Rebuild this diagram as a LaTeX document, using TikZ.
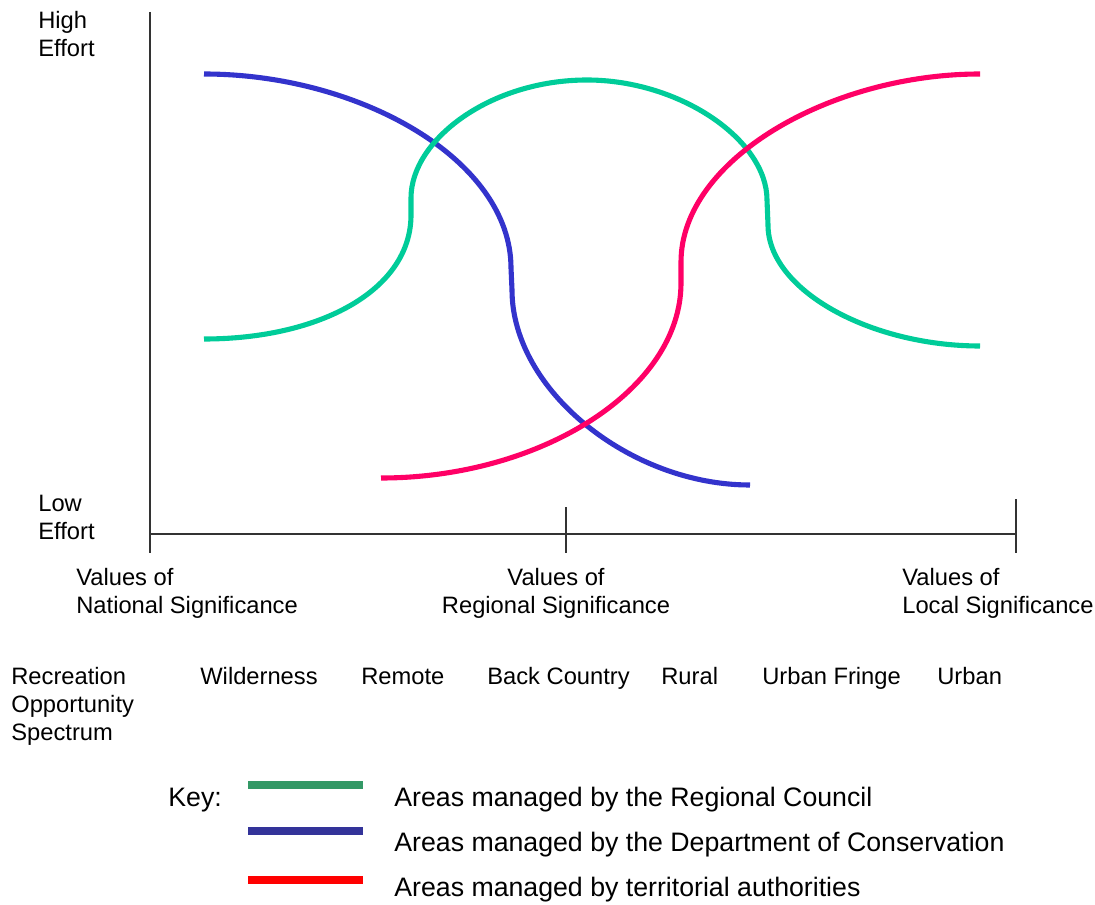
\documentclass[tikz,border=0pt]{standalone}
\usepackage{fontspec}
\setmainfont{Liberation Sans}
\usetikzlibrary{positioning}
\definecolor{recCouncil}{HTML}{00CC99}
\definecolor{recDoc}{HTML}{3333CC}
\definecolor{recTla}{HTML}{FF0066}
\definecolor{keyCouncil}{HTML}{339966}
\definecolor{keyDoc}{HTML}{333399}
\definecolor{keyTla}{HTML}{FF0000}
\definecolor{recInk}{HTML}{333333}

\begin{document}
\begin{tikzpicture}[x=0.02cm,y=-0.02cm,font=\fontsize{13.5}{15.9}\selectfont]
    \tikzset{lbl/.style={inner sep=0pt,anchor=base west},
      lblm/.style={inner sep=0pt,anchor=north west,align=left},
      keylbl/.style={lbl,font=\fontsize{15.2}{18}\selectfont},
      axis/.style={recInk,line width=0.8pt},
      curve/.style={line width=2.9pt},
      keyline/.style={line width=4pt}}
    \useasboundingbox (0,0) rectangle (1095,905);
    % axes and ticks
    \coordinate (top) at (150,12);
    \coordinate (origin) at (150,534);
    \coordinate (right) at (1016,534);
    \coordinate (ybot) at (150,553);
    \coordinate (midtop) at (566,507);
    \coordinate (midbot) at (566,553);
    \coordinate (rtop) at (1016,499);
    \coordinate (rbot) at (1016,553);
    \draw[axis] (top) -- (ybot);
    \draw[axis] (origin) -- (right);
    \draw[axis] (midtop) -- (midbot);
    \draw[axis] (rtop) -- (rbot);
    \node[lblm] (high) at (38,11) {High\\Effort};
    \node[lblm] (low) at (38,495) {Low\\Effort};
    % the three management curves
    \draw[curve,recDoc] (204,74) .. controls (360,74) and (511,160) .. (511,268)
      -- (512,290) .. controls (512,390) and (630,485) .. (750,485);
    \draw[curve,recCouncil] (204,339) .. controls (320,339) and (411,290) .. (411,215)
      -- (411,198) .. controls (411,140) and (490,80) .. (587,80)
      .. controls (680,80) and (767,140) .. (767,200)
      -- (768,225) .. controls (768,290) and (870,346) .. (980,346);
    \draw[curve,recTla] (381,478) .. controls (540,478) and (681,390) .. (681,283)
      -- (681,262) .. controls (681,160) and (830,74) .. (980,74);
    % scale of significance
    \node[lblm] (natl) at (76,568) {Values of\\National Significance};
    \node[inner sep=0pt,anchor=north,align=center] (regl) at (556,568) {Values of\\Regional Significance};
    \node[lblm] (locl) at (902,568) {Values of\\Local Significance};
    % opportunity spectrum
    \node[lblm] (ros) at (11,667) {Recreation\\Opportunity\\Spectrum};
    \node[lbl] (wild) at (200,684) {Wilderness};
    \node[lbl] (remote) at (361,684) {Remote};
    \node[lbl] (back) at (487,684) {Back Country};
    \node[lbl] (rural) at (661,684) {Rural};
    \node[lbl] (fringe) at (762,684) {Urban Fringe};
    \node[lbl] (urban) at (937,684) {Urban};
    % key
    \node[keylbl] (key) at (168,806) {Key:};
    \draw[keyline,keyCouncil] (248,785) -- (363,785);
    \draw[keyline,keyDoc] (248,831) -- (363,831);
    \draw[keyline,keyTla] (248,880) -- (363,880);
    \node[keylbl] (kc) at (394,806) {Areas managed by the Regional Council};
    \node[keylbl] (kd) at (394,851) {Areas managed by the Department of Conservation};
    \node[keylbl] (kt) at (394,896) {Areas managed by territorial authorities};
  \end{tikzpicture}
\end{document}
